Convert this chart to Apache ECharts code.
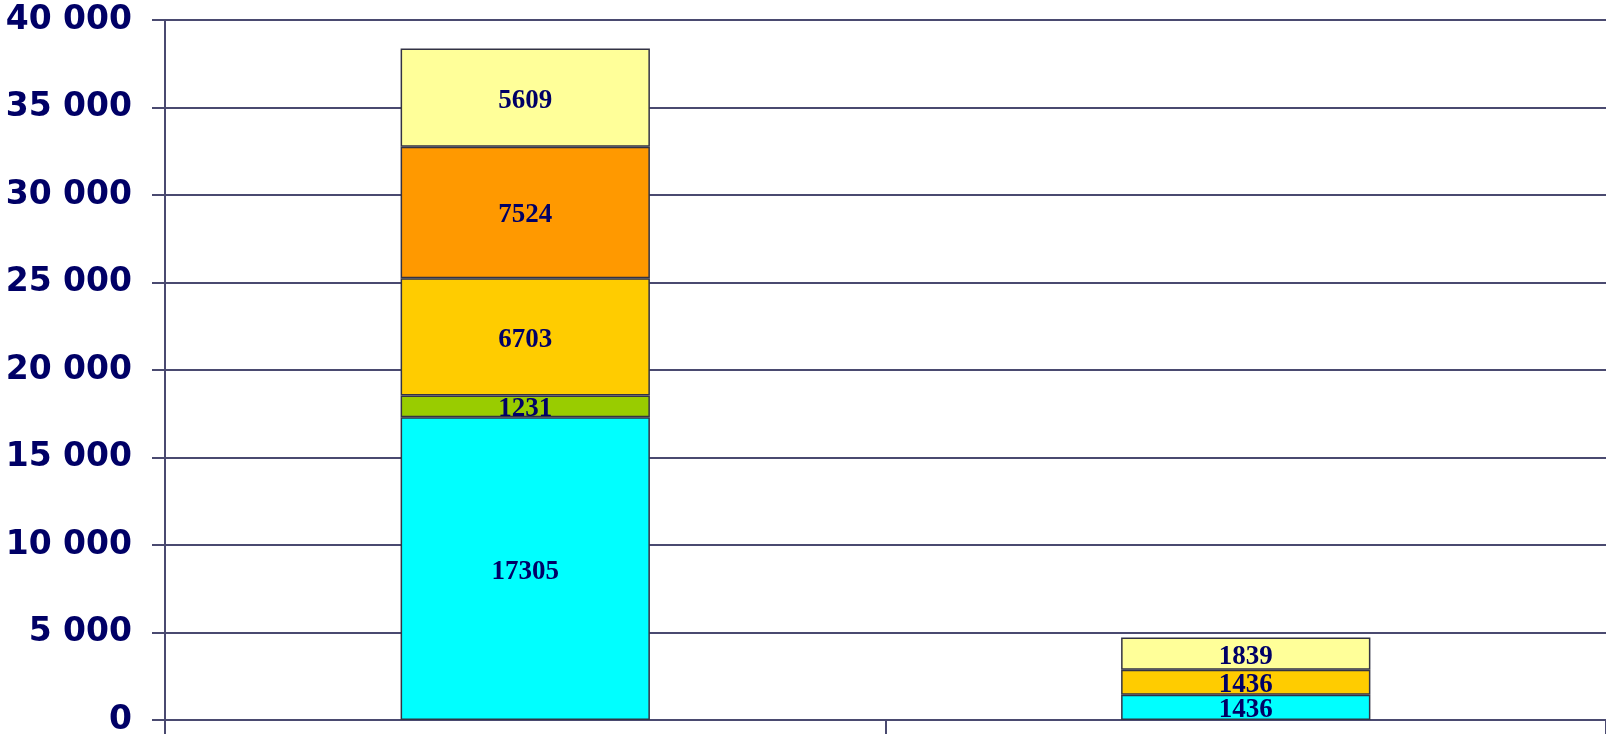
<!DOCTYPE html>
<html>
<head>
<meta charset="utf-8">
<script src="https://cdn.jsdelivr.net/npm/echarts@6/dist/echarts.min.js"></script>
<style>
  html, body { margin: 0; padding: 0; background: #ffffff; }
  #chart { width: 1606px; height: 738px; }
</style>
</head>
<body>
<div id="chart"></div>
<script>
// Two stacked columns, five stack components
const categories = ['A', 'B'];
const seriesNames = ['Série 1', 'Série 2', 'Série 3', 'Série 4', 'Série 5'];
const seriesColors = ['#00FFFF', '#99CC00', '#FFCC00', '#FF9900', '#FFFF99'];
const s1 = [17305, 1436];
const s2 = [1231, null];
const s3 = [6703, 1436];
const s4 = [7524, null];
const s5 = [5609, 1839];
const yTicks = { min: 0, max: 40000, interval: 5000 };

const values = [s1, s2, s3, s4, s5];
const navy = '#000066';
const lineColor = '#4a4a70';

const chart = echarts.init(document.getElementById('chart'), null, { renderer: 'canvas' });

chart.setOption({
  backgroundColor: '#ffffff',
  animation: false,
  grid: { left: 165, right: -3, top: 20, bottom: 18, containLabel: false },
  xAxis: {
    type: 'category',
    data: categories,
    boundaryGap: true,
    axisLine: { show: true, lineStyle: { color: lineColor, width: 2 } },
    axisTick: { show: true, length: 14, lineStyle: { color: lineColor, width: 2 } },
    axisLabel: { show: false },
    splitLine: { show: false }
  },
  yAxis: {
    type: 'value',
    min: yTicks.min,
    max: yTicks.max,
    interval: yTicks.interval,
    axisLine: { show: true, lineStyle: { color: lineColor, width: 2 } },
    axisTick: { show: true, length: 13, lineStyle: { color: lineColor, width: 2 } },
    splitLine: { show: true, lineStyle: { color: lineColor, width: 2 } },
    axisLabel: {
      margin: 33,
      padding: [8, 0, 0, 0],
      color: navy,
      fontFamily: '"DejaVu Sans", sans-serif',
      fontWeight: 'bold',
      fontSize: 33,
      formatter: v => String(v).replace(/\B(?=(\d{3})+(?!\d))/g, ' ')
    }
  },
  series: values.map((arr, i) => ({
    name: seriesNames[i],
    type: 'bar',
    stack: 'total',
    barWidth: '34.6%',
    data: arr,
    itemStyle: { color: seriesColors[i], borderColor: '#333344', borderWidth: 1.5 },
    label: {
      show: true,
      position: 'inside',
      offset: [0, 3],
      color: navy,
      fontFamily: '"Liberation Serif", "Times New Roman", serif',
      fontWeight: 'bold',
      fontSize: 27,
      formatter: p => (p.value == null ? '' : String(p.value))
    }
  }))
});
</script>
</body>
</html>
